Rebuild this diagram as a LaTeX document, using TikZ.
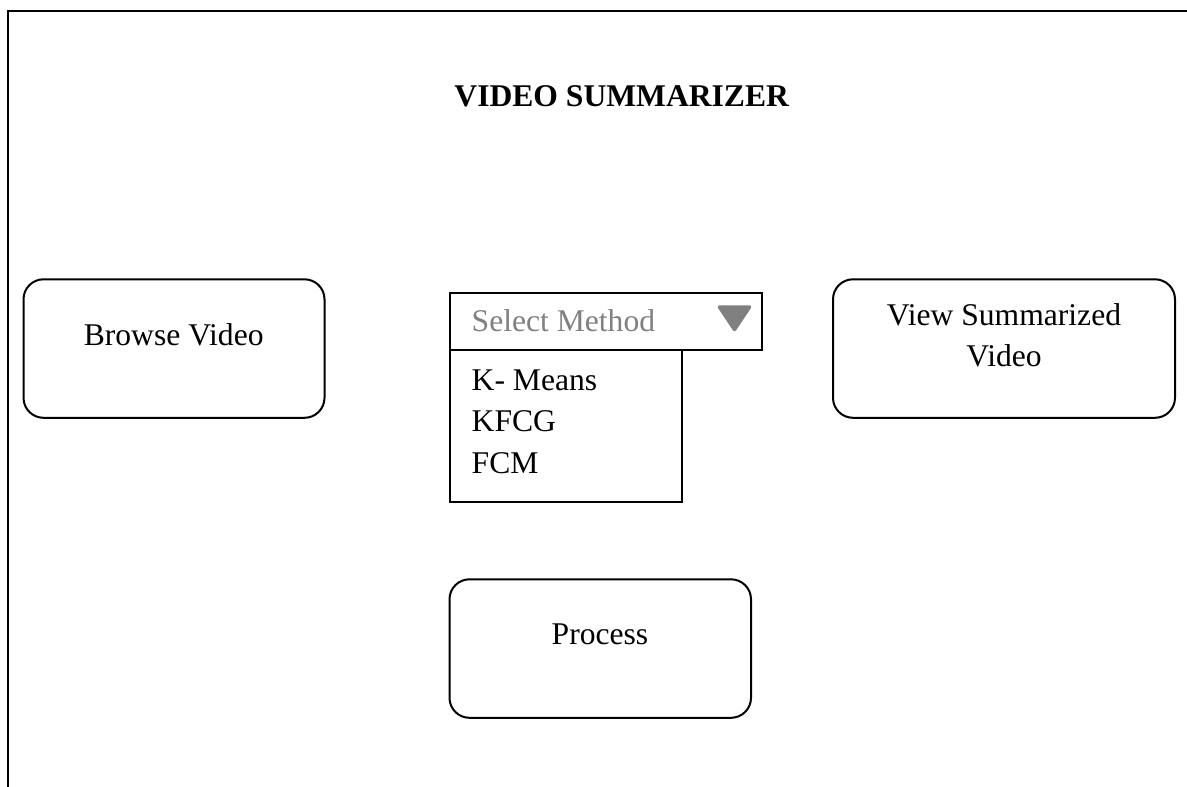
\documentclass[tikz,border=0pt]{standalone}
\usepackage{fontspec}
\setmainfont{Liberation Serif}
\definecolor{hintgray}{HTML}{808080}
\begin{document}
\begin{tikzpicture}[x=1pt,y=-1pt,
  every node/.style={inner sep=0pt, outer sep=0pt},
  txt/.style={font=\fontsize{31.6}{41.7}\selectfont, anchor=base},
  btn/.style={draw, line width=2pt, rounded corners=20pt, anchor=north west},
  plainbox/.style={draw, line width=2pt, anchor=north west}
]
\useasboundingbox (0,0) rectangle (1187,787);
% window frame (left and top edges)
\coordinate (fbl) at (8,787);
\coordinate (ftl) at (8,11);
\coordinate (ftr) at (1187,11);
\draw[line width=2pt] (fbl) -- (ftl) -- (ftr);

% title
\node[txt, font=\fontsize{31.6}{41.7}\selectfont\bfseries] (title) at (621.7,106.7) {VIDEO SUMMARIZER};

% buttons
\node[btn, minimum width=301pt, minimum height=138.5pt] (browse) at (23.5,279.3) {};
\node[txt] (browsetxt) at (173.7,345) {Browse Video};

\node[btn, minimum width=342pt, minimum height=138.5pt] (view) at (833,279.3) {};
\node[txt, align=center] (viewtxt) at (1004,366.7) {View Summarized\\Video};

\node[btn, minimum width=301.5pt, minimum height=138.5pt] (process) at (449.5,579.3) {};
\node[txt] (processtxt) at (600,644) {Process};

% drop-down selector
\node[plainbox, minimum width=312pt, minimum height=57.5pt] (select) at (450.3,292.7) {};
\node[txt, anchor=base west, text=hintgray] (selecttxt) at (471.7,331.7) {Select Method};
\coordinate (ta) at (719.5,307);
\coordinate (tb) at (749.5,307);
\coordinate (tc) at (734.5,329.5);
\draw[hintgray, fill=hintgray, line width=3.5pt, line join=round] (ta) -- (tb) -- (tc) -- cycle;

\node[plainbox, minimum width=231.5pt, minimum height=151.5pt] (list) at (450.3,350.2) {};
\node[txt, anchor=base west] (kmeans) at (471.7,390) {K- Means};
\node[txt, anchor=base west] (kfcg) at (471.7,431.7) {KFCG};
\node[txt, anchor=base west] (fcm) at (471.7,473.3) {FCM};
\end{tikzpicture}
\end{document}
